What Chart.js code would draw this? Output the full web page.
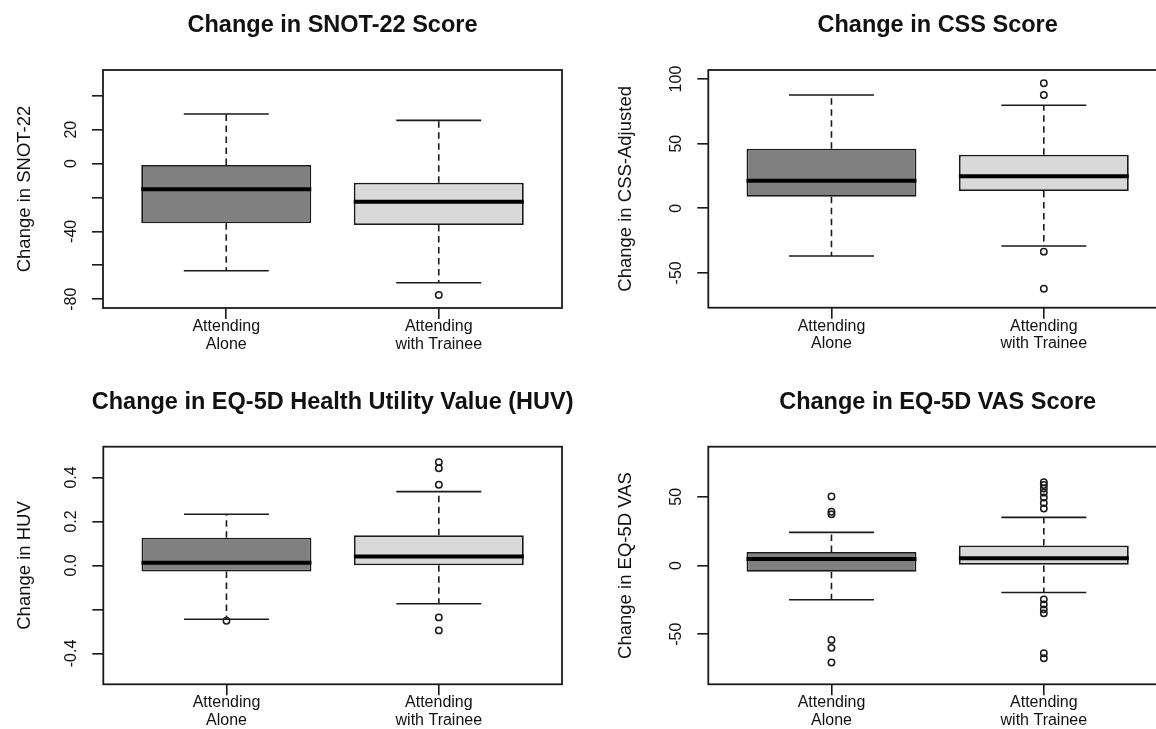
<!DOCTYPE html>
<html><head><meta charset="utf-8">
<script src="https://cdn.jsdelivr.net/npm/chart.js@4/dist/chart.umd.min.js"></script>
<style>
html,body{margin:0;padding:0;background:#fff;overflow:hidden;width:1156px;height:729px;position:relative;}
canvas{position:absolute;}
</style></head><body>
<canvas id="c1" width="578" height="364" style="left:0;top:0"></canvas>
<canvas id="c2" width="600" height="364" style="left:578px;top:0"></canvas>
<canvas id="c3" width="578" height="365" style="left:0;top:364px"></canvas>
<canvas id="c4" width="600" height="365" style="left:578px;top:364px"></canvas>
<script>
// ---- data ----
const categories = [["Attending","Alone"],["Attending","with Trainee"]];
const groupX = [1, 2];
// box stats: [lower whisker, Q1, median, Q3, upper whisker]
const snotAlone = [-63.2, -35.2, -15.2, -0.8, 29.2];
const snotTrainee = [-70.3, -36.2, -22.5, -11.3, 25.5];
const snotOutAlone = [];
const snotOutTrainee = [-77.5];
const snotTicks = [-80, -60, -40, -20, 0, 20, 40];
const snotTickLabels = ["-80", "", "-40", "", "0", "20", ""];

const cssAlone = [-37.0, 8.9, 21.3, 46.1, 87.6];
const cssTrainee = [-29.2, 13.3, 24.7, 41.4, 79.7];
const cssOutAlone = [];
const cssOutTrainee = [96.7, 87.6, -33.6, -62.3];
const cssTicks = [-50, 0, 50, 100];
const cssTickLabels = ["-50", "0", "50", "100"];

const huvAlone = [-0.244, -0.027, 0.012, 0.126, 0.233];
const huvTrainee = [-0.174, 0.001, 0.041, 0.138, 0.336];
const huvOutAlone = [-0.251];
const huvOutTrainee = [0.47, 0.442, 0.367, -0.236, -0.295];
const huvTicks = [-0.4, -0.2, 0, 0.2, 0.4];
const huvTickLabels = ["-0.4", "", "0.0", "0.2", "0.4"];

const vasAlone = [-24.9, -4.6, 4.8, 9.9, 24.1];
const vasTrainee = [-19.6, 0, 5.3, 14.5, 35];
const vasOutAlone = [50.2, 39.1, 37.2, -54.1, -59.9, -70.5];
const vasOutTrainee = [60.5, 58.5, 56, 53, 49.5, 45.5, 41.5, -24.6, -28.3, -31.9, -34.8, -63.8, -67.4];
const vasTicks = [-50, 0, 50];
const vasTickLabels = ["-50", "0", "50"];

const titles = ["Change in SNOT-22 Score", "Change in CSS Score", "Change in EQ-5D Health Utility Value (HUV)", "Change in EQ-5D VAS Score"];
const yTitles = ["Change in SNOT-22", "Change in CSS-Adjusted", "Change in HUV", "Change in EQ-5D VAS"];

// ---- rendering ----
Chart.defaults.font.family = "'Liberation Sans', Arial, sans-serif";
const INK = '#1a1a1a';
const boxFills = ['#808080', '#d9d9d9'];

function makePanel(id, p) {
  const boxes = [p.alone, p.trainee];
  const outs = [p.outAlone, p.outTrainee];
  const outlierData = [];
  outs.forEach((arr, i) => arr.forEach(v => outlierData.push({x: groupX[i], y: v})));

  const extras = {
    id: 'boxExtras',
    afterDatasetsDraw(chart) {
      const {ctx, scales: {x, y}} = chart;
      ctx.save();
      ctx.strokeStyle = INK;
      boxes.forEach((s, i) => {
        const g = groupX[i];
        const cx = x.getPixelForValue(g);
        const capL = x.getPixelForValue(g - 0.2), capR = x.getPixelForValue(g + 0.2);
        const bL = x.getPixelForValue(g - 0.4), bR = x.getPixelForValue(g + 0.4);
        ctx.lineWidth = 1.6;
        ctx.setLineDash([6.5, 4.5]);
        ctx.beginPath();
        ctx.moveTo(cx, y.getPixelForValue(s[3])); ctx.lineTo(cx, y.getPixelForValue(s[4]));
        ctx.moveTo(cx, y.getPixelForValue(s[1])); ctx.lineTo(cx, y.getPixelForValue(s[0]));
        ctx.stroke();
        ctx.setLineDash([]);
        ctx.beginPath();
        ctx.moveTo(capL, y.getPixelForValue(s[4])); ctx.lineTo(capR, y.getPixelForValue(s[4]));
        ctx.moveTo(capL, y.getPixelForValue(s[0])); ctx.lineTo(capR, y.getPixelForValue(s[0]));
        ctx.stroke();
        ctx.lineWidth = 4;
        ctx.strokeStyle = '#000';
        ctx.beginPath();
        ctx.moveTo(bL, y.getPixelForValue(s[2])); ctx.lineTo(bR, y.getPixelForValue(s[2]));
        ctx.stroke();
        ctx.strokeStyle = INK;
      });
      ctx.restore();
    },
    afterDraw(chart) {
      const {ctx, chartArea: a, scales: {x, y}} = chart;
      ctx.save();
      ctx.strokeStyle = INK;
      ctx.lineWidth = 1.8;
      ctx.strokeRect(a.left, a.top, a.right - a.left, a.bottom - a.top);
      ctx.fillStyle = '#111';
      // title
      ctx.font = "bold 23.5px 'Liberation Sans', Arial, sans-serif";
      ctx.textAlign = 'center';
      ctx.textBaseline = 'middle';
      ctx.fillText(p.title, (a.left + a.right) / 2, a.top - 44);
      // x labels
      ctx.font = "16px 'Liberation Sans', Arial, sans-serif";
      categories.forEach((lines, i) => {
        const px = x.getPixelForValue(groupX[i]);
        lines.forEach((t, k) => ctx.fillText(t, px, a.bottom + 18.7 + k * 17.6));
      });
      // y tick labels (rotated)
      p.ticks.forEach((v, i) => {
        const lbl = p.tickLabels[i];
        if (!lbl) return;
        ctx.save();
        ctx.translate(a.left - 31.5, y.getPixelForValue(v));
        ctx.rotate(-Math.PI / 2);
        ctx.fillText(lbl, 0, 0);
        ctx.restore();
      });
      // y title
      ctx.font = "18.5px 'Liberation Sans', Arial, sans-serif";
      ctx.save();
      ctx.translate(a.left - p.yTitleOff, (a.top + a.bottom) / 2);
      ctx.rotate(-Math.PI / 2);
      ctx.fillText(p.yTitle, 0, 0);
      ctx.restore();
      ctx.restore();
    }
  };

  return new Chart(document.getElementById(id), {
    type: 'bar',
    data: {
      datasets: [
        {
          type: 'bar',
          data: boxes.map((s, i) => ({x: groupX[i], y: [s[1], s[3]]})),
          backgroundColor: boxFills,
          borderColor: INK,
          borderWidth: 1.8,
          borderSkipped: false,
          barPercentage: 1,
          categoryPercentage: 0.8,
          order: 2
        },
        {
          type: 'scatter',
          data: outlierData,
          pointStyle: 'circle',
          pointRadius: 3.2,
          pointBorderWidth: 1.5,
          borderColor: INK,
          backgroundColor: 'rgba(0,0,0,0)',
          order: 1
        }
      ]
    },
    options: {
      responsive: false,
      animation: false,
      events: [],
      layout: {padding: {left: 0, right: p.padR, top: p.padT, bottom: 0}},
      plugins: {legend: {display: false}, tooltip: {enabled: false}, title: {display: false}},
      scales: {
        x: {
          type: 'linear', min: 0.42, max: 2.58, offset: false,
          afterBuildTicks: s => { s.ticks = groupX.map(v => ({value: v})); },
          afterFit: s => { s.height = p.xh; },
          ticks: {display: false},
          grid: {display: true, drawOnChartArea: false, drawTicks: true, tickLength: 11, color: INK, lineWidth: 1.6, offset: false},
          border: {display: false}
        },
        y: {
          type: 'linear', min: p.min, max: p.max, beginAtZero: false,
          afterBuildTicks: s => { s.ticks = p.ticks.map(v => ({value: v})); },
          afterFit: s => { s.width = p.yw; },
          ticks: {display: false},
          grid: {display: true, drawOnChartArea: false, drawTicks: true, tickLength: 11, color: INK, lineWidth: 1.6},
          border: {display: false}
        }
      }
    },
    plugins: [extras]
  });
}

makePanel('c1', {alone: snotAlone, trainee: snotTrainee, outAlone: snotOutAlone, outTrainee: snotOutTrainee,
  ticks: snotTicks, tickLabels: snotTickLabels, title: titles[0], yTitle: yTitles[0],
  min: -85.2, max: 55.2, yw: 103, padR: 16, padT: 70, xh: 56, yTitleOff: 78});
makePanel('c2', {alone: cssAlone, trainee: cssTrainee, outAlone: cssOutAlone, outTrainee: cssOutTrainee,
  ticks: cssTicks, tickLabels: cssTickLabels, title: titles[1], yTitle: yTitles[1],
  min: -77, max: 107, yw: 130.3, padR: 11, padT: 70, xh: 56.3, yTitleOff: 82});
makePanel('c3', {alone: huvAlone, trainee: huvTrainee, outAlone: huvOutAlone, outTrainee: huvOutTrainee,
  ticks: huvTicks, tickLabels: huvTickLabels, title: titles[2], yTitle: yTitles[2],
  min: -0.54, max: 0.54, yw: 103.3, padR: 16, padT: 82.7, xh: 44.7, yTitleOff: 78});
makePanel('c4', {alone: vasAlone, trainee: vasTrainee, outAlone: vasOutAlone, outTrainee: vasOutTrainee,
  ticks: vasTicks, tickLabels: vasTickLabels, title: titles[3], yTitle: yTitles[3],
  min: -86.4, max: 86.4, yw: 130.3, padR: 11, padT: 82.7, xh: 44.7, yTitleOff: 82});
</script>
</body></html>
